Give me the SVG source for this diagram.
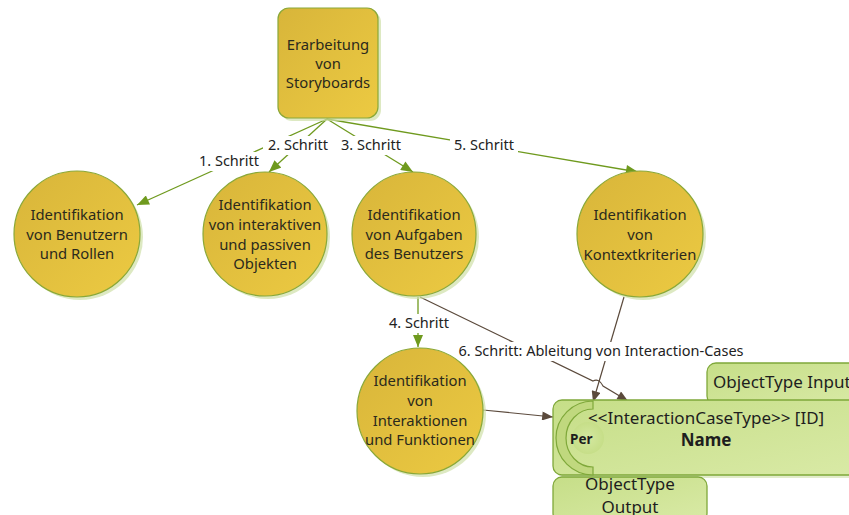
<svg xmlns="http://www.w3.org/2000/svg" width="849" height="515" viewBox="0 0 849 515">
<defs>
<linearGradient id="gold" x1="0" y1="0" x2="1" y2="1">
<stop offset="0" stop-color="#d8b53a"/>
<stop offset="1" stop-color="#ecca42"/>
</linearGradient>
<linearGradient id="lg" x1="0" y1="0" x2="1" y2="1">
<stop offset="0" stop-color="#c6de88"/>
<stop offset="1" stop-color="#d9eaa6"/>
</linearGradient>
<radialGradient id="perg" cx="0.5" cy="0.5" r="0.5">
<stop offset="0" stop-color="#d4e8a0"/>
<stop offset="1" stop-color="#c6de88"/>
</radialGradient>
<marker id="ag" viewBox="0 0 12 10" refX="12" refY="5" markerWidth="13" markerHeight="10" markerUnits="userSpaceOnUse" orient="auto">
<path d="M0,0 L12,5 L0,10 Z" fill="#6f9a1e"/>
</marker>
<marker id="ab" viewBox="0 0 12 10" refX="12" refY="5" markerWidth="12" markerHeight="9" markerUnits="userSpaceOnUse" orient="auto">
<path d="M0,0 L12,5 L0,10 Z" fill="#5b4a3c"/>
</marker>
</defs>
<style>
.circ{fill:url(#gold);stroke:#8aa838;stroke-width:1.2}
.shadow{fill:#cfe0a8;opacity:0.7}
.t{font-family:"Noto Sans","Liberation Sans",sans-serif;font-size:14.8px;fill:#2b2a1c;text-anchor:middle}
.lbl{font-family:"Noto Sans","Liberation Sans",sans-serif;font-size:14.5px;fill:#222;text-anchor:middle}
.g{fill:none;stroke:#6f9a1e;stroke-width:1.3}
.b{fill:none;stroke:#5b4a3c;stroke-width:1.2}
.bg{fill:#fff}
.box{fill:url(#lg);stroke:#7fa83a;stroke-width:1.3}
.bt{font-family:"Noto Sans","Liberation Sans",sans-serif;font-size:17px;fill:#1e1e1e}
</style>

<g id="connectors">
<path class="g" d="M327,119 L137,205" marker-end="url(#ag)"/>
<path class="g" d="M327,119 L269,172" marker-end="url(#ag)"/>
<path class="g" d="M327,119 L413,172" marker-end="url(#ag)"/>
<path class="g" d="M327,119 L638,172" marker-end="url(#ag)"/>
<path class="g" d="M418,297 L418,347" marker-end="url(#ag)"/>
<path class="b" d="M420,297 L593,381 Q599,378 603,386 L628,401" marker-end="url(#ab)"/>
<path class="b" d="M624,297 L593,402" marker-end="url(#ab)"/>
<path class="b" d="M483,410 L553,417" marker-end="url(#ab)"/>
<rect class="bg" x="194" y="152" width="70" height="19"/>
<text class="lbl" x="229" y="166">1. Schritt</text>
<rect class="bg" x="263" y="136" width="70" height="19"/>
<text class="lbl" x="298" y="150">2. Schritt</text>
<rect class="bg" x="336" y="136" width="70" height="19"/>
<text class="lbl" x="371" y="150">3. Schritt</text>
<rect class="bg" x="450" y="136" width="68" height="19"/>
<text class="lbl" x="484" y="150">5. Schritt</text>
<rect class="bg" x="385" y="314" width="68" height="19"/>
<text class="lbl" x="419" y="328">4. Schritt</text>
<rect class="bg" x="454" y="342" width="294" height="19"/>
<text class="lbl" x="601" y="356">6. Schritt: Ableitung von Interaction-Cases</text>
</g>

<g id="storyboards">
<rect x="281" y="11" width="100" height="110" rx="11" fill="#cfe0a8" opacity="0.7"/>
<rect x="278" y="8" width="100" height="110" rx="11" fill="url(#gold)" stroke="#8aa838" stroke-width="1.2"/>
<text class="t" x="328" y="50">Erarbeitung</text>
<text class="t" x="328" y="69">von</text>
<text class="t" x="328" y="88">Storyboards</text>
</g>

<g id="benutzer">
<circle class="shadow" cx="80" cy="237" r="63"/>
<circle class="circ" cx="77" cy="234" r="63"/>
<text class="t" x="77" y="220">Identifikation</text>
<text class="t" x="77" y="240">von Benutzern</text>
<text class="t" x="77" y="259">und Rollen</text>
</g>

<g id="objekte">
<circle class="shadow" cx="268" cy="237" r="62"/>
<circle class="circ" cx="265" cy="234" r="62"/>
<text class="t" x="265" y="210">Identifikation</text>
<text class="t" x="265" y="230">von interaktiven</text>
<text class="t" x="265" y="250">und passiven</text>
<text class="t" x="265" y="269">Objekten</text>
</g>

<g id="aufgaben">
<circle class="shadow" cx="417" cy="237" r="62"/>
<circle class="circ" cx="414" cy="234" r="62"/>
<text class="t" x="414" y="220">Identifikation</text>
<text class="t" x="414" y="240">von Aufgaben</text>
<text class="t" x="414" y="259">des Benutzers</text>
</g>

<g id="kontext">
<circle class="shadow" cx="643" cy="237" r="63"/>
<circle class="circ" cx="640" cy="234" r="63"/>
<text class="t" x="640" y="220">Identifikation</text>
<text class="t" x="640" y="240">von</text>
<text class="t" x="640" y="260">Kontextkriterien</text>
</g>

<g id="interaktionen">
<circle class="shadow" cx="423" cy="414" r="63"/>
<circle class="circ" cx="420" cy="411" r="63"/>
<text class="t" x="420" y="386">Identifikation</text>
<text class="t" x="420" y="406">von</text>
<text class="t" x="420" y="426">Interaktionen</text>
<text class="t" x="420" y="445">und Funktionen</text>
</g>

<g id="input">
<rect class="box" x="707" y="363" width="160" height="42" rx="9"/>
<text class="bt" x="713" y="388">ObjectType Input</text>
</g>

<g id="interactioncase">
<rect x="556" y="403" width="310" height="75" rx="9" fill="#cfe0a8" opacity="0.6"/>
<rect class="box" x="553" y="400" width="310" height="75" rx="9"/>
<path d="M593,401 A37,37 0 0 0 593,475 L593,467 A27,29 0 0 1 593,409 Z" fill="#c0d87e" stroke="#7fa83a" stroke-width="1.2"/>
<circle cx="588" cy="438" r="16" fill="url(#perg)"/>
<text class="bt" x="588" y="424">&lt;&lt;InteractionCaseType&gt;&gt; [ID]</text>
<text class="bt" x="706" y="446" font-weight="bold" text-anchor="middle">Name</text>
<text x="570" y="444" font-family="'Noto Sans','Liberation Sans',sans-serif" font-size="13.5" font-weight="bold" fill="#1e1e1e">Per</text>
</g>

<g id="output">
<rect class="box" x="553" y="477" width="154" height="45" rx="9"/>
<text class="bt" x="630" y="490" text-anchor="middle">ObjectType</text>
<text class="bt" x="630" y="513" text-anchor="middle">Output</text>
</g>
</svg>
